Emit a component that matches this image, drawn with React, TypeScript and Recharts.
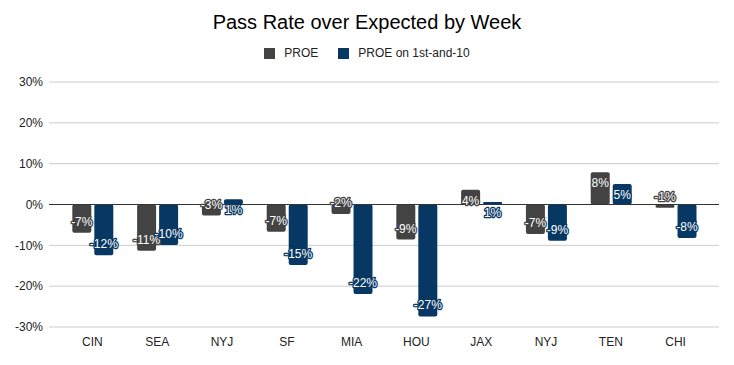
import React from "react";
import { BarChart, Bar, XAxis, YAxis, CartesianGrid, ReferenceLine, LabelList } from "recharts";

const teams = ["CIN", "SEA", "NYJ", "SF", "MIA", "HOU", "JAX", "NYJ", "TEN", "CHI"];
const proe = [-6.9, -11.3, -2.7, -6.7, -2.3, -8.6, 3.6, -7.2, 7.9, -0.8];
const proeFirst = [-12.4, -9.9, 1.3, -14.8, -21.9, -27.4, 0.6, -8.9, 5.0, -8.2];
const yTicks = [-30, -20, -10, 0, 10, 20, 30];

const GRAY = "#434343";
const BLUE = "#073763";
const FONT = "Arial, 'Liberation Sans', sans-serif";

const data = teams.map((t, i) => ({ key: `${t}-${i}`, team: t, proe: proe[i], first: proeFirst[i] }));

const makeLabel = (color: string) => (props: any) => {
  const { x, y, width, height, value } = props;
  const top = Math.min(y, y + height);
  const bottom = Math.max(y, y + height);
  const cy = value < 0 ? bottom - 11 : top + 11;
  return (
    <text
      x={x + width / 2}
      y={cy}
      textAnchor="middle"
      dominantBaseline="central"
      fontSize={12}
      fontFamily={FONT}
      fill="#ffffff"
      stroke={color}
      strokeWidth={2.5}
      paintOrder="stroke"
      strokeLinejoin="round"
    >
      {`${Math.round(value)}%`}
    </text>
  );
};

export default function App() {
  return (
    <div style={{ position: "absolute", left: 0, top: 0, width: 734, height: 365, background: "#fff", fontFamily: FONT }}>
      <div style={{ position: "absolute", left: 0, top: 10, width: 734, textAlign: "center", fontSize: 20, color: "#000", lineHeight: "24px" }}>
        Pass Rate over Expected by Week
      </div>
      <div style={{ position: "absolute", left: 0, top: 46, width: 734, display: "flex", justifyContent: "center", alignItems: "center", fontSize: 12, color: "#222", lineHeight: "14px" }}>
        <span style={{ display: "inline-block", width: 11, height: 11, background: GRAY, marginRight: 9 }} />
        <span style={{ marginRight: 20 }}>PROE</span>
        <span style={{ display: "inline-block", width: 11, height: 11, background: BLUE, marginRight: 9 }} />
        <span>PROE on 1st-and-10</span>
      </div>
      <div style={{ position: "absolute", left: 0, top: 0 }}>
        <BarChart
          width={734}
          height={365}
          data={data}
          margin={{ top: 82, right: 15, bottom: 8, left: 0 }}
          barCategoryGap="19%"
          barGap={3}
        >
          <CartesianGrid horizontal vertical={false} stroke="#cccccc" />
          <XAxis
            dataKey="key"
            height={30}
            tickFormatter={(v: string) => v.split("-")[0]}
            axisLine={false}
            tickLine={false}
            tickSize={0}
            tickMargin={10}
            padding={{ left: 11, right: 11 }}
            tick={{ fontSize: 12, fill: "#222", fontFamily: FONT }}
            interval={0}
          />
          <YAxis
            width={49}
            domain={[-30, 30]}
            ticks={yTicks}
            axisLine={false}
            tickLine={false}
            tickSize={0}
            tickMargin={6}
            tickFormatter={(v: number) => `${v}%`}
            tick={{ fontSize: 12, fill: "#222", fontFamily: FONT }}
          />
          <ReferenceLine y={0} stroke="#333333" strokeWidth={1} />
          <Bar dataKey="proe" fill={GRAY} radius={2} isAnimationActive={false}>
            <LabelList dataKey="proe" content={makeLabel(GRAY)} />
          </Bar>
          <Bar dataKey="first" fill={BLUE} radius={2} isAnimationActive={false}>
            <LabelList dataKey="first" content={makeLabel(BLUE)} />
          </Bar>
        </BarChart>
      </div>
    </div>
  );
}
